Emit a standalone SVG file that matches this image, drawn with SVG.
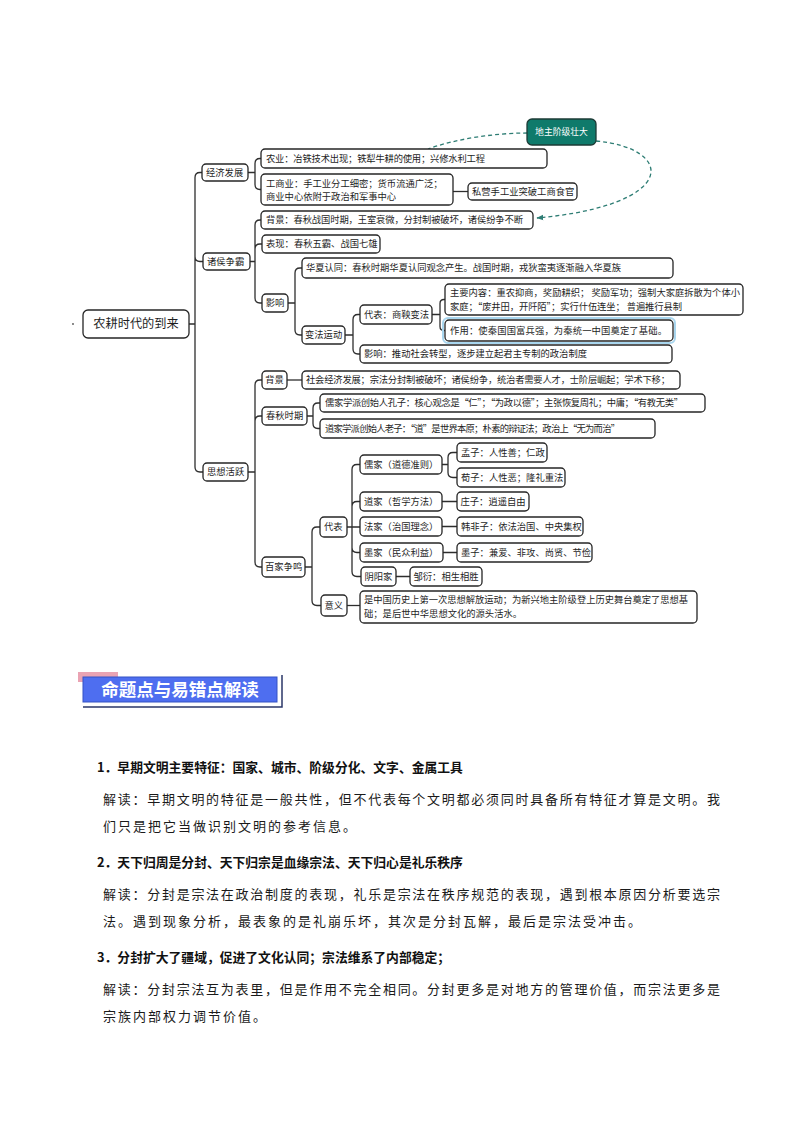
<svg xmlns="http://www.w3.org/2000/svg" width="794" height="1123" viewBox="0 0 794 1123">
<defs>
<style>
.box{fill:#fff;stroke:#262626;stroke-width:1.3}
.t{font-family:"Noto Sans CJK SC","Noto Sans",sans-serif;font-size:9.3px;fill:#1e1e1e}
.ln{fill:none;stroke:#2e2e2e;stroke-width:1.3}
.dash{fill:none;stroke:#2e7d74;stroke-width:1.3;stroke-dasharray:4 3}
.h{font-family:"Noto Sans CJK SC","Noto Sans",sans-serif;font-size:12.8px;font-weight:bold;fill:#111}
.b{font-family:"Noto Sans CJK SC","Noto Sans",sans-serif;font-size:13px;fill:#1a1a1a}
</style>
<marker id="arr" viewBox="0 0 10 10" refX="9" refY="5" markerWidth="7" markerHeight="7" orient="auto" markerUnits="userSpaceOnUse">
<path d="M0,1 L10,5 L0,9 Z" fill="#2e7d74"/>
</marker>
</defs>
<rect width="794" height="1123" fill="#fff"/>

<g id="connectors">
<path class="ln" d="M189,324 H195 M195,324 V177.5 Q195,172.5 200,172.5 H202 M195,324 V256.5 Q195,261.5 200,261.5 H203 M195,324 V467 Q195,472 200,472 H203"/>
<path class="ln" d="M248,172.5 H255 M255,172.5 V163.5 Q255,158.5 260,158.5 H261 M255,172.5 V184.5 Q255,189.5 260,189.5 H261"/>
<path class="ln" d="M453,191.5 H468"/>
<path class="ln" d="M250,261.5 H255 M255,261.5 V225 Q255,220 260,220 H261 M255,261.5 V249 Q255,244 260,244 H262 M255,261.5 V298 Q255,303 260,303 H262"/>
<path class="ln" d="M288,303 H295 M295,303 V273 Q295,268 300,268 H302 M295,303 V330 Q295,335 300,335 H302"/>
<path class="ln" d="M345,335 H353 M353,335 V319.5 Q353,314.5 358,314.5 H360 M353,335 V349 Q353,354 358,354 H360"/>
<path class="ln" d="M432,314.5 H440 M440,314.5 V303.5 Q440,299.5 444,299.5 H445 M440,314.5 V326.5 Q440,330.5 444,330.5 H445"/>
<path class="ln" d="M248,472 H255 M255,472 V385 Q255,380 260,380 H262 M255,472 V421 Q255,416 260,416 H262 M255,472 V562 Q255,567 260,567 H262"/>
<path class="ln" d="M287,380 H302"/>
<path class="ln" d="M307,416 H313 M313,416 V408 Q313,403 318,403 H320 M313,416 V423.5 Q313,428.5 318,428.5 H320"/>
<path class="ln" d="M305,567 H312 M312,567 V532 Q312,527 317,527 H320 M312,567 V600.5 Q312,605.5 317,605.5 H321"/>
<path class="ln" d="M347,605.5 H360"/>
<path class="ln" d="M347,527 H352 M352,527 V469.5 Q352,464.5 357,464.5 H360 M352,527 V506.5 Q352,501.5 357,501.5 H360 M352,527 H360 M352,527 V547.5 Q352,552.5 357,552.5 H360 M352,527 V571.5 Q352,576.5 357,576.5 H361"/>
<path class="ln" d="M442,464.5 H448 M448,464.5 V457.5 Q448,452.5 453,452.5 H457 M448,464.5 V472.5 Q448,477.5 453,477.5 H457"/>
<path class="ln" d="M442,501.5 H457 M442,526.5 H457 M443,552.5 H457 M396,576.5 H410"/>
<path class="dash" d="M527,133 C495,133 455,139 428,149"/>
<path class="dash" d="M596,141 C675,148 680,205 537,218" marker-end="url(#arr)"/>
</g>

<circle cx="73" cy="324" r="0.9" fill="#555"/>

<g id="root"><rect class="box" x="83" y="310" width="106" height="28" rx="5"/><text x="136" y="328.3" font-family="Noto Sans CJK SC, sans-serif" font-size="12.2" fill="#1e1e1e" text-anchor="middle">农耕时代的到来</text></g>

<g id="n-jjfz"><rect class="box" x="202" y="164" width="46" height="17" rx="4"/><text class="t" x="206" y="175.8">经济发展</text></g>
<g id="n-nongye"><rect class="box" x="261" y="149" width="286" height="19" rx="4"/><text class="t" x="266" y="161.8" textLength="219" lengthAdjust="spacing">农业：冶铁技术出现；铁犁牛耕的使用；兴修水利工程</text></g>
<g id="n-gsy"><rect class="box" x="261" y="174" width="192" height="31" rx="4"/><text class="t" x="266" y="187">工商业：手工业分工细密；货币流通广泛；</text><text class="t" x="266" y="200">商业中心依附于政治和军事中心</text></g>
<g id="n-sy"><rect class="box" x="468" y="183" width="109" height="17" rx="4"/><text class="t" x="472" y="194.8">私营手工业突破工商食官</text></g>
<g id="n-dizhu"><rect x="527" y="119" width="69" height="26" rx="5" fill="#0f7a6b" stroke="#1d3b36" stroke-width="1.3"/><text x="561.5" y="135" font-family="Noto Sans CJK SC, sans-serif" font-size="8.8" fill="#fff" text-anchor="middle">地主阶级壮大</text></g>

<g id="n-zhzb"><rect class="box" x="203" y="253" width="47" height="17" rx="4"/><text class="t" x="207" y="264.8">诸侯争霸</text></g>
<g id="n-bj1"><rect class="box" x="261" y="211" width="272" height="18" rx="4"/><text class="t" x="266" y="223.3" textLength="257" lengthAdjust="spacing">背景：春秋战国时期，王室衰微，分封制被破坏，诸侯纷争不断</text></g>
<g id="n-bx"><rect class="box" x="262" y="235" width="118" height="18" rx="4"/><text class="t" x="266" y="247.3">表现：春秋五霸、战国七雄</text></g>
<g id="n-yx"><rect class="box" x="262" y="294" width="26" height="18" rx="4"/><text class="t" x="265.7" y="306.3">影响</text></g>
<g id="n-hxrt"><rect class="box" x="302" y="258" width="371" height="20" rx="4"/><text class="t" x="306" y="271.3" textLength="315" lengthAdjust="spacing">华夏认同：春秋时期华夏认同观念产生。战国时期，戎狄蛮夷逐渐融入华夏族</text></g>
<g id="n-bfyd"><rect class="box" x="302" y="326" width="43" height="18" rx="4"/><text class="t" x="305" y="338.3">变法运动</text></g>
<g id="n-db1"><rect class="box" x="360" y="305" width="72" height="19" rx="4"/><text class="t" x="364" y="317.8">代表：商鞅变法</text></g>
<g id="n-zynr"><rect class="box" x="445" y="284" width="298" height="31" rx="4"/><text class="t" x="450" y="296" textLength="290" lengthAdjust="spacing">主要内容：重农抑商，奖励耕织； 奖励军功；强制大家庭拆散为个体小</text><text class="t" x="450" y="309.5" textLength="232" lengthAdjust="spacing">家庭；“废井田，开阡陌”；实行什伍连坐； 普遍推行县制</text></g>
<g id="n-zy"><rect x="443" y="318" width="232" height="25" rx="5" fill="none" stroke="#a9d6ee" stroke-width="2"/><rect class="box" x="445" y="320" width="228" height="21" rx="4"/><text class="t" x="450" y="333.8" textLength="217" lengthAdjust="spacing">作用：使秦国国富兵强，为秦统一中国奠定了基础。</text></g>
<g id="n-yx2"><rect class="box" x="360" y="345" width="312" height="18" rx="4"/><text class="t" x="364" y="357.3" textLength="223" lengthAdjust="spacing">影响：推动社会转型，逐步建立起君主专制的政治制度</text></g>

<g id="n-sxhy"><rect class="box" x="203" y="463" width="45" height="18" rx="4"/><text class="t" x="207" y="475.3">思想活跃</text></g>
<g id="n-bj2"><rect class="box" x="262" y="371" width="25" height="18" rx="4"/><text class="t" x="265.3" y="383.3">背景</text></g>
<g id="n-shjj"><rect class="box" x="302" y="371" width="378" height="18" rx="4"/><text class="t" x="306" y="383.3" textLength="364" lengthAdjust="spacing">社会经济发展；宗法分封制被破坏；诸侯纷争，统治者需要人才，士阶层崛起；学术下移；</text></g>
<g id="n-cqsq"><rect class="box" x="262" y="407" width="45" height="18" rx="4"/><text class="t" x="266" y="419.3">春秋时期</text></g>
<g id="n-rjxp"><rect class="box" x="320" y="394" width="385" height="18" rx="4"/><text class="t" x="325" y="406.3" textLength="358" lengthAdjust="spacing">儒家学派创始人孔子：核心观念是“仁”；“为政以德”；主张恢复周礼；中庸；“有教无类”</text></g>
<g id="n-djxp"><rect class="box" x="320" y="419" width="335" height="19" rx="4"/><text class="t" x="325" y="431.8" textLength="295" lengthAdjust="spacing">道家学派创始人老子：“道”是世界本原；朴素的辩证法；政治上“无为而治”</text></g>
<g id="n-bjzm"><rect class="box" x="262" y="557" width="43" height="20" rx="4"/><text class="t" x="265" y="570.3">百家争鸣</text></g>
<g id="n-db2"><rect class="box" x="320" y="517" width="27" height="20" rx="4"/><text class="t" x="324" y="530.3">代表</text></g>
<g id="n-yy"><rect class="box" x="321" y="595" width="26" height="21" rx="4"/><text class="t" x="324.5" y="608.8">意义</text></g>
<g id="n-yyt"><rect class="box" x="360" y="591" width="337" height="32" rx="4"/><text class="t" x="364" y="603.3" textLength="324" lengthAdjust="spacing">是中国历史上第一次思想解放运动；为新兴地主阶级登上历史舞台奠定了思想基</text><text class="t" x="364" y="616.8">础；是后世中华思想文化的源头活水。</text></g>
<g id="n-rj"><rect class="box" x="360" y="455" width="82" height="19" rx="4"/><text class="t" x="364" y="467.8">儒家（道德准则）</text></g>
<g id="n-dj"><rect class="box" x="360" y="492" width="82" height="19" rx="4"/><text class="t" x="364" y="504.8">道家（哲学方法）</text></g>
<g id="n-fj"><rect class="box" x="360" y="517" width="82" height="19" rx="4"/><text class="t" x="364" y="529.8">法家（治国理念）</text></g>
<g id="n-mj"><rect class="box" x="360" y="543" width="83" height="19" rx="4"/><text class="t" x="364" y="555.8">墨家（民众利益）</text></g>
<g id="n-yyj"><rect class="box" x="361" y="567" width="35" height="19" rx="4"/><text class="t" x="364.5" y="579.8">阴阳家</text></g>
<g id="n-mz"><rect class="box" x="457" y="443" width="90" height="19" rx="4"/><text class="t" x="461" y="455.8">孟子：人性善；仁政</text></g>
<g id="n-xz"><rect class="box" x="457" y="468" width="108" height="19" rx="4"/><text class="t" x="461" y="480.8">荀子：人性恶；隆礼重法</text></g>
<g id="n-zz"><rect class="box" x="457" y="492" width="72" height="19" rx="4"/><text class="t" x="460.5" y="504.8">庄子：逍遥自由</text></g>
<g id="n-hfz"><rect class="box" x="457" y="517" width="126" height="19" rx="4"/><text class="t" x="461" y="529.8">韩非子：依法治国、中央集权</text></g>
<g id="n-mozi"><rect class="box" x="457" y="543" width="135" height="19" rx="4"/><text class="t" x="461" y="555.8">墨子：兼爱、非攻、尚贤、节俭</text></g>
<g id="n-zy2"><rect class="box" x="410" y="567" width="72" height="19" rx="4"/><text class="t" x="413.5" y="579.8">邹衍：相生相胜</text></g>

<g id="header">
<rect x="78" y="672" width="40" height="10" fill="#eaa3b3"/>
<path d="M83,707 H282 V675" fill="none" stroke="#2b3768" stroke-width="1.5"/>
<rect x="83" y="677" width="194" height="25" fill="#4e6ef0" stroke="#3553c4" stroke-width="1"/>
<text x="180" y="695.5" font-family="Noto Sans CJK SC, sans-serif" font-size="17.5" font-weight="bold" fill="#fff" text-anchor="middle">命题点与易错点解读</text>
</g>

<g id="notes">
<text class="h" x="97" y="772">1．早期文明主要特征：国家、城市、阶级分化、文字、金属工具</text>
<text class="b" x="103" y="804" textLength="617" lengthAdjust="spacing">解读：早期文明的特征是一般共性，但不代表每个文明都必须同时具备所有特征才算是文明。我</text>
<text class="b" x="103" y="831" letter-spacing="2">们只是把它当做识别文明的参考信息。</text>
<text class="h" x="97" y="867">2．天下归周是分封、天下归宗是血缘宗法、天下归心是礼乐秩序</text>
<text class="b" x="103" y="899" textLength="617" lengthAdjust="spacing">解读：分封是宗法在政治制度的表现，礼乐是宗法在秩序规范的表现，遇到根本原因分析要选宗</text>
<text class="b" x="103" y="926" letter-spacing="2">法。遇到现象分析，最表象的是礼崩乐坏，其次是分封瓦解，最后是宗法受冲击。</text>
<text class="h" x="97" y="962">3．分封扩大了疆域，促进了文化认同；宗法维系了内部稳定；</text>
<text class="b" x="103" y="994" textLength="617" lengthAdjust="spacing">解读：分封宗法互为表里，但是作用不完全相同。分封更多是对地方的管理价值，而宗法更多是</text>
<text class="b" x="103" y="1021" letter-spacing="2">宗族内部权力调节价值。</text>
</g>
</svg>
